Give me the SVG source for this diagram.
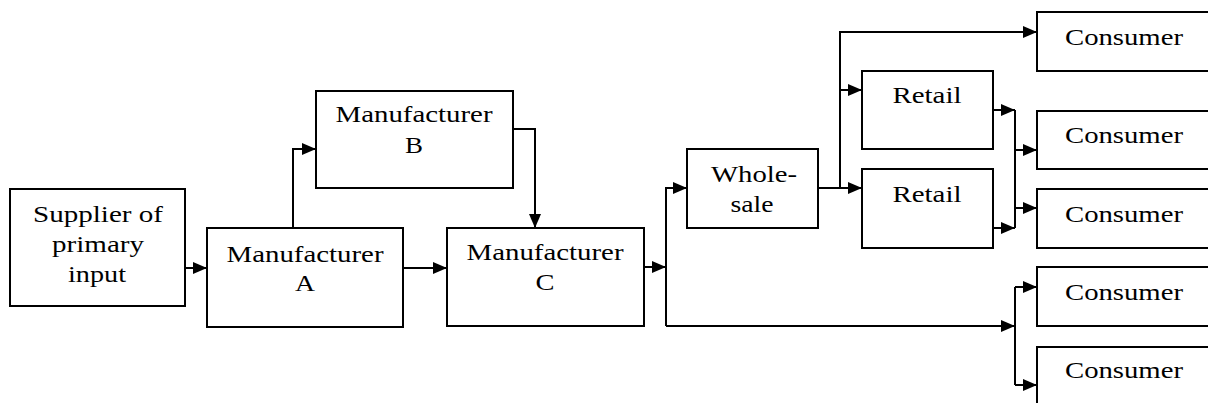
<svg xmlns="http://www.w3.org/2000/svg" width="1208" height="403" viewBox="0 0 1208 403">
<style>
.box{fill:#fff;stroke:#000;stroke-width:2}
.t{font-family:"Liberation Serif","Times New Roman",serif;font-size:23.5px;fill:#000;text-anchor:middle}
.c{fill:none;stroke:#000;stroke-width:2}
.a{marker-end:url(#arr)}
</style>
<defs>
<marker id="arr" markerUnits="userSpaceOnUse" markerWidth="15" markerHeight="13" refX="14" refY="6.5" orient="auto">
<path d="M0,0.5 L14,6.5 L0,12.5 z" fill="#000"/>
</marker>
</defs>
<rect width="1208" height="403" fill="#fff"/>
<g id="connectors">
<path class="c a" d="M185,268 H207"/>
<path class="c a" d="M293,228 V149 H316"/>
<path class="c a" d="M403,268 H447"/>
<path class="c a" d="M513,129 H535 V228"/>
<path class="c a" d="M644,267 H666"/>
<path class="c a" d="M666,326 V188 H687"/>
<path class="c a" d="M666,326 H1015"/>
<path class="c a" d="M818,188 H862"/>
<path class="c a" d="M840,188 V32 H1037"/>
<path class="c a" d="M840,90 H862"/>
<path class="c a" d="M993,110 H1015"/>
<path class="c a" d="M993,228 H1015"/>
<path class="c" d="M1015,110 V228"/>
<path class="c a" d="M1015,150 H1037"/>
<path class="c a" d="M1015,208 H1037"/>
<path class="c" d="M1015,287 V385"/>
<path class="c a" d="M1015,287 H1037"/>
<path class="c a" d="M1015,385 H1037"/>
</g>
<g id="supplier">
<rect class="box" x="10" y="189" width="175" height="117"/>
<text class="t" x="98" y="222" textLength="130" lengthAdjust="spacingAndGlyphs">Supplier of</text>
<text class="t" x="98" y="252" textLength="92" lengthAdjust="spacingAndGlyphs">primary</text>
<text class="t" x="97" y="282" textLength="58" lengthAdjust="spacingAndGlyphs">input</text>
</g>
<g id="manA">
<rect class="box" x="207" y="228" width="196" height="99"/>
<text class="t" x="305" y="262" textLength="157" lengthAdjust="spacingAndGlyphs">Manufacturer</text>
<text class="t" x="305" y="291" textLength="20" lengthAdjust="spacingAndGlyphs">A</text>
</g>
<g id="manB">
<rect class="box" x="316" y="91" width="197" height="97"/>
<text class="t" x="414" y="122" textLength="157" lengthAdjust="spacingAndGlyphs">Manufacturer</text>
<text class="t" x="414" y="153" textLength="18" lengthAdjust="spacingAndGlyphs">B</text>
</g>
<g id="manC">
<rect class="box" x="447" y="228" width="197" height="98"/>
<text class="t" x="545" y="260" textLength="157" lengthAdjust="spacingAndGlyphs">Manufacturer</text>
<text class="t" x="545" y="290" textLength="19" lengthAdjust="spacingAndGlyphs">C</text>
</g>
<g id="wholesale">
<rect class="box" x="687" y="149" width="131" height="79"/>
<text class="t" x="754" y="182" textLength="86" lengthAdjust="spacingAndGlyphs">Whole-</text>
<text class="t" x="752" y="212" textLength="43" lengthAdjust="spacingAndGlyphs">sale</text>
</g>
<g id="retail1">
<rect class="box" x="862" y="71" width="131" height="78"/>
<text class="t" x="927" y="103" textLength="69" lengthAdjust="spacingAndGlyphs">Retail</text>
</g>
<g id="retail2">
<rect class="box" x="862" y="169" width="131" height="79"/>
<text class="t" x="927" y="202" textLength="69" lengthAdjust="spacingAndGlyphs">Retail</text>
</g>
<g id="consumer1">
<rect class="box" x="1037" y="12" width="180" height="59"/>
<text class="t" x="1124" y="45" textLength="118" lengthAdjust="spacingAndGlyphs">Consumer</text>
</g>
<g id="consumer2">
<rect class="box" x="1037" y="111" width="180" height="58"/>
<text class="t" x="1124" y="143" textLength="118" lengthAdjust="spacingAndGlyphs">Consumer</text>
</g>
<g id="consumer3">
<rect class="box" x="1037" y="189" width="180" height="59"/>
<text class="t" x="1124" y="222" textLength="118" lengthAdjust="spacingAndGlyphs">Consumer</text>
</g>
<g id="consumer4">
<rect class="box" x="1037" y="267" width="180" height="59"/>
<text class="t" x="1124" y="300" textLength="118" lengthAdjust="spacingAndGlyphs">Consumer</text>
</g>
<g id="consumer5">
<rect class="box" x="1037" y="347" width="180" height="70"/>
<text class="t" x="1124" y="378" textLength="118" lengthAdjust="spacingAndGlyphs">Consumer</text>
</g>
</svg>
